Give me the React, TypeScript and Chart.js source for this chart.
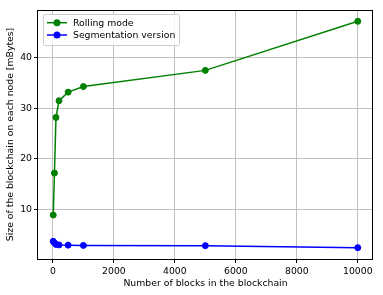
import React, { useEffect, useRef } from "react";
import { Chart, registerables } from "chart.js";

Chart.register(...registerables);

const blocks = [10, 50, 100, 200, 500, 1000, 5000, 10000];
const rollingMode = [8.9, 17.2, 28.2, 31.5, 33.2, 34.3, 37.5, 47.2];
const segmentationVersion = [3.7, 3.4, 3.1, 3.0, 2.95, 2.9, 2.85, 2.45];
const seriesLabels = ["Rolling mode", "Segmentation version"];
const seriesColors = ["#008000", "#0000ff"];
const xTicks = [0, 2000, 4000, 6000, 8000, 10000];
const yTicks = [10, 20, 30, 40];
const xTitle = "Number of blocks in the blockchain";
const yTitle = "Size of the blockchain on each node [mBytes]";

const FONT = "'DejaVu Sans', sans-serif";
const FS = 9.3;

function paddedRange(values: number[]) {
  const lo = Math.min(...values);
  const hi = Math.max(...values);
  const m = (hi - lo) * 0.05;
  return [lo - m, hi + m];
}

const framePlugin = {
  id: "frame",
  afterDatasetsDraw(chart: any) {
    const { ctx, chartArea: a } = chart;
    ctx.save();
    ctx.strokeStyle = "#000";
    ctx.lineWidth = 1;
    ctx.strokeRect(
      Math.round(a.left) - 0.5,
      Math.round(a.top) + 0.5,
      Math.round(a.right - a.left),
      Math.round(a.bottom - a.top)
    );
    ctx.restore();
  },
};

const legendPlugin = {
  id: "mplLegend",
  afterDraw(chart: any) {
    const { ctx, chartArea: a } = chart;
    const datasets = chart.data.datasets;
    const x0 = a.left + 5.5;
    const y0 = a.top + 4.5;
    const w = 136;
    const h = 31;
    ctx.save();
    ctx.beginPath();
    const r = 2;
    ctx.moveTo(x0 + r, y0);
    ctx.lineTo(x0 + w - r, y0);
    ctx.quadraticCurveTo(x0 + w, y0, x0 + w, y0 + r);
    ctx.lineTo(x0 + w, y0 + h - r);
    ctx.quadraticCurveTo(x0 + w, y0 + h, x0 + w - r, y0 + h);
    ctx.lineTo(x0 + r, y0 + h);
    ctx.quadraticCurveTo(x0, y0 + h, x0, y0 + h - r);
    ctx.lineTo(x0, y0 + r);
    ctx.quadraticCurveTo(x0, y0, x0 + r, y0);
    ctx.closePath();
    ctx.fillStyle = "rgba(255,255,255,0.8)";
    ctx.fill();
    ctx.strokeStyle = "#cccccc";
    ctx.lineWidth = 1;
    ctx.stroke();
    ctx.font = FS + "px " + FONT;
    ctx.textBaseline = "middle";
    ctx.textAlign = "left";
    datasets.forEach((ds: any, i: number) => {
      const cy = y0 + 8.2 + i * 12.3;
      ctx.strokeStyle = ds.borderColor;
      ctx.lineWidth = 1.5;
      ctx.beginPath();
      ctx.moveTo(x0 + 3.5, cy);
      ctx.lineTo(x0 + 23.5, cy);
      ctx.stroke();
      ctx.fillStyle = ds.borderColor;
      ctx.beginPath();
      ctx.arc(x0 + 13.5, cy, 3.5, 0, Math.PI * 2);
      ctx.fill();
      ctx.fillStyle = "#000";
      ctx.fillText(ds.label, x0 + 29.5, cy + 0.5);
    });
    ctx.restore();
  },
};

export default function App() {
  const ref = useRef<HTMLCanvasElement | null>(null);

  useEffect(() => {
    if (!ref.current) return;
    const [xMin, xMax] = paddedRange(blocks);
    const [yMin, yMax] = paddedRange([...rollingMode, ...segmentationVersion]);
    const series = [rollingMode, segmentationVersion];
    const chart = new Chart(ref.current, {
      type: "line",
      data: {
        datasets: series.map((vals, i) => ({
          label: seriesLabels[i],
          data: blocks.map((b, j) => ({ x: b, y: vals[j] })),
          borderColor: seriesColors[i],
          backgroundColor: seriesColors[i],
          pointBackgroundColor: seriesColors[i],
          pointBorderColor: seriesColors[i],
          borderWidth: 1.5,
          pointRadius: 3,
          pointBorderWidth: 1,
          tension: 0,
          fill: false,
        })),
      },
      options: {
        animation: false,
        responsive: false,
        devicePixelRatio: 1,
        layout: { padding: { left: 0, right: 10, top: 10, bottom: 0 } },
        plugins: {
          legend: { display: false },
          tooltip: { enabled: false },
        },
        scales: {
          x: {
            type: "linear",
            min: xMin,
            max: xMax,
            afterBuildTicks: (s: any) => {
              s.ticks = xTicks.map((v) => ({ value: v }));
            },
            afterFit: (s: any) => {
              s.height = 36;
            },
            grid: {
              color: "#c0c0c0",
              lineWidth: 1,
              drawTicks: true,
              tickLength: 4,
              tickColor: "#000",
            },
            border: { display: false },
            ticks: {
              color: "#000",
              font: { size: FS, family: FONT },
              padding: 3,
              maxRotation: 0,
              autoSkip: false,
              callback: (v: any) => String(v),
            },
            title: {
              display: true,
              text: xTitle,
              color: "#000",
              font: { size: FS, family: FONT },
              padding: { top: 0, bottom: 6 },
            },
          },
          y: {
            type: "linear",
            min: yMin,
            max: yMax,
            afterBuildTicks: (s: any) => {
              s.ticks = yTicks.map((v) => ({ value: v }));
            },
            afterFit: (s: any) => {
              s.width = 38;
            },
            grid: {
              color: "#c0c0c0",
              lineWidth: 1,
              drawTicks: true,
              tickLength: 4,
              tickColor: "#000",
            },
            border: { display: false },
            ticks: {
              color: "#000",
              font: { size: FS, family: FONT },
              padding: 2,
              autoSkip: false,
              callback: (v: any) => String(v),
            },
            title: {
              display: true,
              text: yTitle,
              color: "#000",
              font: { size: FS, family: FONT },
              padding: { top: 5, bottom: 0 },
            },
          },
        },
      },
      plugins: [framePlugin, legendPlugin],
    });
    return () => chart.destroy();
  }, []);

  return (
    <div style={{ position: "fixed", left: 0, top: 0, width: 383, height: 295, background: "#fff" }}>
      <canvas ref={ref} width={383} height={295} style={{ display: "block" }} />
    </div>
  );
}
